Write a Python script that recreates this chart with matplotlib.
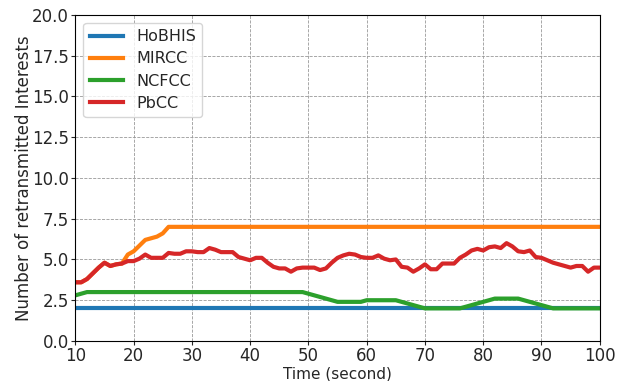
import matplotlib
matplotlib.use("Agg")
import matplotlib.pyplot as plt

# time axis (seconds)
secs = list(range(10, 101))

pbcc = [3.6, 3.6, 3.8, 4.15, 4.5, 4.8, 4.6, 4.7, 4.75, 4.9,
        4.9, 5.05, 5.3, 5.1, 5.1, 5.1, 5.4, 5.35, 5.35, 5.5,
        5.5, 5.45, 5.45, 5.7, 5.6, 5.45, 5.45, 5.45, 5.15, 5.05,
        4.95, 5.1, 5.1, 4.8, 4.55, 4.45, 4.45, 4.25, 4.45, 4.5,
        4.5, 4.5, 4.35, 4.45, 4.8, 5.1, 5.25, 5.35, 5.3, 5.15,
        5.1, 5.1, 5.25, 5.05, 4.95, 5.0, 4.55, 4.5, 4.25, 4.45,
        4.7, 4.4, 4.4, 4.75, 4.75, 4.75, 5.1, 5.3, 5.55, 5.65,
        5.55, 5.75, 5.8, 5.7, 6.0, 5.8, 5.5, 5.45, 5.55, 5.15,
        5.1, 4.95, 4.8, 4.7, 4.6, 4.5, 4.6, 4.6, 4.25, 4.5,
        4.5]

mircc_x = [10, 11, 12, 13, 14, 15, 16, 17, 18, 19, 20, 21, 22, 23, 24, 25, 26, 100]
mircc = [3.6, 3.6, 3.8, 4.15, 4.5, 4.8, 4.6, 4.7, 4.75, 5.3, 5.5, 5.85, 6.2, 6.3, 6.4, 6.6, 7.0, 7.0]

ncfcc_x = [10, 12, 49, 55, 59, 60, 65, 70, 76, 82, 86, 92, 100]
ncfcc = [2.8, 3.0, 3.0, 2.4, 2.4, 2.5, 2.5, 2.0, 2.0, 2.6, 2.6, 2.0, 2.0]

hobhis_x = [10, 100]
hobhis = [2.0, 2.0]

txt = '#262626'
plt.rcParams['text.color'] = txt
plt.rcParams['axes.labelcolor'] = txt
plt.rcParams['xtick.color'] = txt
plt.rcParams['ytick.color'] = txt

fig = plt.figure(figsize=(6.28, 3.81), dpi=100)
ax = fig.add_axes([0.12, 0.105, 0.835, 0.856])

ax.plot(hobhis_x, hobhis, color='tab:blue', lw=3, label='HoBHIS')
ax.plot(mircc_x, mircc, color='tab:orange', lw=3, label='MIRCC')
ax.plot(ncfcc_x, ncfcc, color='tab:green', lw=3, label='NCFCC')
ax.plot(secs, pbcc, color='tab:red', lw=3, label='PbCC')

ax.set_xlim(10, 100)
ax.set_ylim(0, 20)
ax.set_xticks(range(10, 101, 10))
ax.set_yticks([i * 2.5 for i in range(9)])
ax.set_yticklabels(['%.1f' % (i * 2.5) for i in range(9)])
ax.tick_params(labelsize=12, length=3, pad=1.5)
ax.grid(True, linestyle='--', color='0.6', lw=0.6)
ax.set_xlabel('Time (second)', fontsize=11, labelpad=1)
ax.set_ylabel('Number of retransmitted Interests', fontsize=12, labelpad=-1)
ax.legend(loc='upper left', fontsize=11.5, handlelength=2.1, labelspacing=0.45)

fig.savefig('out.png', dpi=100)
